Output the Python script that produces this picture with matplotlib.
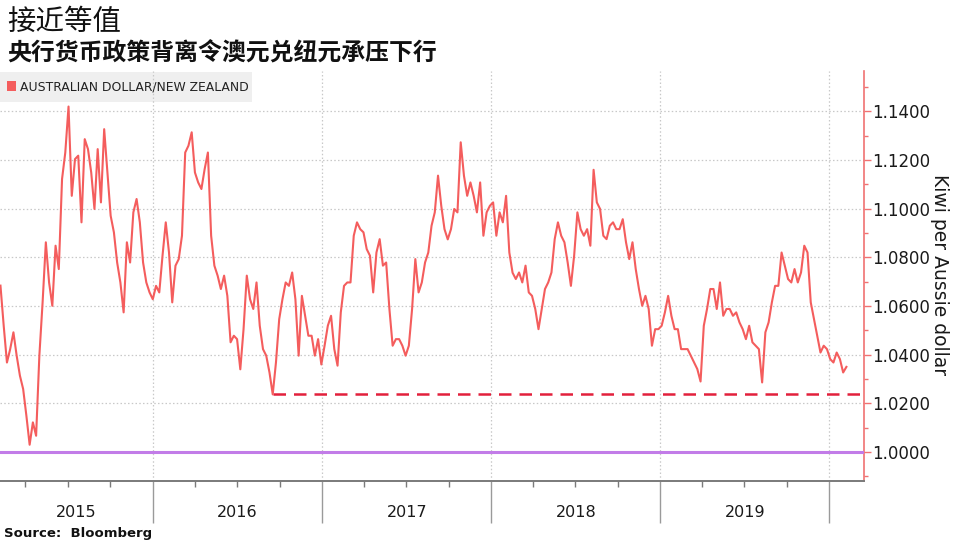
import pandas as pd
import numpy as np
import matplotlib
matplotlib.use('Agg')
import matplotlib.pyplot as plt
import matplotlib.dates as mdates
from matplotlib.patches import Rectangle
from matplotlib.ticker import MultipleLocator, FormatStrFormatter

plt.rcParams.update({
    'font.family': ['DejaVu Sans'],
    'axes.unicode_minus': False,
})
CJK = ['Noto Sans CJK SC', 'DejaVu Sans']

COLORS = {
    'line': '#f45d5d',
    'spine': '#f07272',
    'dash': '#e2203c',
    'parity': '#c27ce8',
    'grid': '#c8c8c8',
    'axis': '#7a7a7a',
    'legend_bg': '#efefef',
    'text': '#1a1a1a',
}

# weekly AUD/NZD closes, starting Feb 6 2015
start_date = '2015-02-06'
audnzd = [
    1.0684, 1.0519, 1.0368, 1.0423, 1.0492, 1.0396, 1.0314, 1.0259, 1.0149, 1.0030,
    1.0122, 1.0067, 1.0396, 1.0615, 1.0862, 1.0697, 1.0601, 1.0848, 1.0752, 1.1122,
    1.1231, 1.1420, 1.1053, 1.1204, 1.1218, 1.0944, 1.1286, 1.1245, 1.1149, 1.0999,
    1.1245, 1.1026, 1.1327, 1.1149, 1.0971, 1.0903, 1.0779, 1.0697, 1.0574, 1.0862,
    1.0779, 1.0985, 1.1040, 1.0944, 1.0779,
    1.0697, 1.0656, 1.0628, 1.0683, 1.0656, 1.0807, 1.0944, 1.0820, 1.0615, 1.0766,
    1.0793, 1.0889, 1.1231, 1.1259, 1.1314, 1.1149, 1.1108, 1.1081, 1.1163, 1.1231,
    1.0889, 1.0766, 1.0725, 1.0670, 1.0725, 1.0642, 1.0451, 1.0478, 1.0464, 1.0340,
    1.0505, 1.0725, 1.0628, 1.0588, 1.0697, 1.0519, 1.0423, 1.0396, 1.0327, 1.0237,
    1.0368, 1.0546, 1.0628,
    1.0697, 1.0683, 1.0738, 1.0628, 1.0396, 1.0642, 1.0560, 1.0478, 1.0478, 1.0396,
    1.0464, 1.0360, 1.0437, 1.0519, 1.0560, 1.0423, 1.0355, 1.0574, 1.0683, 1.0697,
    1.0697, 1.0889, 1.0944, 1.0916, 1.0903, 1.0834, 1.0807, 1.0656, 1.0820, 1.0875,
    1.0766, 1.0779, 1.0588, 1.0437, 1.0464, 1.0464, 1.0437, 1.0396, 1.0437, 1.0588,
    1.0793, 1.0656, 1.0697,
    1.0779, 1.0820, 1.0930, 1.0985, 1.1136, 1.1012, 1.0916, 1.0874, 1.0916, 1.0999,
    1.0985, 1.1273, 1.1136, 1.1053, 1.1108, 1.1053, 1.0985, 1.1108, 1.0889, 1.0985,
    1.1012, 1.1026, 1.0889, 1.0985, 1.0944, 1.1053, 1.0820, 1.0737, 1.0711, 1.0738,
    1.0697, 1.0766, 1.0656, 1.0642, 1.0588, 1.0505, 1.0588, 1.0670, 1.0697, 1.0738,
    1.0875, 1.0944, 1.0889, 1.0862,
    1.0779, 1.0683, 1.0807, 1.0985, 1.0916, 1.0889, 1.0916, 1.0848, 1.1160, 1.1026,
    1.0999, 1.0889, 1.0875, 1.0930, 1.0944, 1.0916, 1.0916, 1.0957, 1.0862, 1.0793,
    1.0862, 1.0752, 1.0670, 1.0601, 1.0642, 1.0588, 1.0437, 1.0505, 1.0505, 1.0519,
    1.0574, 1.0642, 1.0560, 1.0505, 1.0505, 1.0423, 1.0423, 1.0423, 1.0396, 1.0368,
    1.0341, 1.0290, 1.0519,
    1.0588, 1.0670, 1.0670, 1.0588, 1.0697, 1.0560, 1.0588, 1.0588, 1.0560, 1.0574,
    1.0533, 1.0505, 1.0464, 1.0519, 1.0451, 1.0437, 1.0423, 1.0286, 1.0492, 1.0533,
    1.0615, 1.0683, 1.0683, 1.0820, 1.0766, 1.0711, 1.0697, 1.0752, 1.0697, 1.0738,
    1.0848, 1.0820, 1.0615, 1.0546, 1.0478, 1.0409, 1.0437, 1.0423, 1.0382, 1.0368,
    1.0409, 1.0382, 1.0327, 1.0350,
]
years = [2015, 2016, 2017, 2018, 2019]
parity = 1.0

title = '接近等值'
subtitle = '央行货币政策背离令澳元兑纽元承压下行'
legend_label = 'AUSTRALIAN DOLLAR/NEW ZEALAND'
ylabel = 'Kiwi per Aussie dollar'
source = 'Source:  Bloomberg'

dates = pd.date_range(start_date, periods=len(audnzd), freq='7D')
series = pd.Series(audnzd, index=dates)

W, H = 966, 549
fig = plt.figure(figsize=(W / 100, H / 100), dpi=100)
ax = fig.add_axes([0, 1 - 481 / H, 864 / W, 410 / H])
ax.set_facecolor('none')

x_left = pd.Timestamp('2015-02-05')
x_right = pd.Timestamp('2020-03-16')
ax.set_xlim(x_left, x_right)
ax.set_ylim(0.9881, 1.1566)

# background legend box (behind the grid)
fig.patches.append(Rectangle((0, 1 - 102 / H), 252 / W, 30 / H, transform=fig.transFigure,
                             facecolor=COLORS['legend_bg'], edgecolor='none', zorder=-1))
fig.patches.append(Rectangle((7 / W, 1 - 91 / H), 9 / W, 10 / H, transform=fig.transFigure,
                             facecolor=COLORS['line'], edgecolor='none', zorder=-1))
fig.text(20 / W, 1 - 87 / H, legend_label, fontsize=8.9, color='#222222',
         ha='left', va='center')

# grid
for y in np.arange(1.0, 1.15, 0.02):
    ax.axhline(y, color=COLORS['grid'], lw=0.9, ls=(0, (1.2, 1.8)), zorder=1)
for yr in years[1:] + [2020]:
    ax.axvline(pd.Timestamp(f'{yr}-01-01'), color=COLORS['grid'], lw=0.9,
               ls=(0, (1.2, 1.8)), zorder=1)

# reference lines
ax.axhline(parity, color=COLORS['parity'], lw=2.2, zorder=3)
low_2016 = series['2016'].idxmin()
ax.hlines(series[low_2016], low_2016, x_right, color=COLORS['dash'], lw=1.8,
          linestyles=(0, (5, 3.2)), zorder=3)

ax.plot(series.index, series.values, color=COLORS['line'], lw=1.5, zorder=4)

# spines
for s in ['top', 'left']:
    ax.spines[s].set_visible(False)
ax.spines['right'].set_color(COLORS['spine'])
ax.spines['right'].set_linewidth(1.2)
ax.spines['bottom'].set_color(COLORS['axis'])
ax.spines['bottom'].set_linewidth(1.4)

# y axis on the right
ax.yaxis.tick_right()
ax.yaxis.set_major_locator(MultipleLocator(0.02))
ax.yaxis.set_minor_locator(MultipleLocator(0.01))
ax.yaxis.set_major_formatter(FormatStrFormatter('%.4f'))
ax.tick_params(axis='y', which='major', length=5, width=1, color=COLORS['spine'],
               labelsize=12, labelcolor=COLORS['text'], pad=1)
ax.tick_params(axis='y', which='minor', length=3, width=1, color=COLORS['spine'])
fig.text(940 / W, 1 - 275 / H, ylabel, rotation=270, fontsize=13.5,
         color=COLORS['text'], ha='center', va='center')

# x axis: long year separators, short quarter ticks
ax.xaxis.set_major_locator(mdates.YearLocator())
ax.xaxis.set_minor_locator(mdates.MonthLocator(bymonth=[4, 7, 10]))
ax.xaxis.set_major_formatter(plt.NullFormatter())
ax.tick_params(axis='x', which='major', length=30, width=1, color='#9a9a9a')
ax.tick_params(axis='x', which='minor', length=4, width=1, color=COLORS['axis'])

for yr in years:
    a = max(pd.Timestamp(f'{yr}-01-01'), x_left)
    b = pd.Timestamp(f'{yr + 1}-01-01')
    mid = a + (b - a) / 2
    ax.text(mid, -0.077, str(yr), transform=ax.get_xaxis_transform(),
            fontsize=11.5, color=COLORS['text'], ha='center', va='center')

fig.text(7 / W, 1 - 22 / H, title, family=CJK, fontsize=20.5, fontweight='medium',
         color='#111111', ha='left', va='center')
fig.text(7 / W, 1 - 54 / H, subtitle, family=CJK, fontsize=17.2, fontweight='bold',
         color='#111111', ha='left', va='center')
fig.text(4 / W, 1 - 533 / H, source, fontsize=9.5, fontweight='bold',
         color='#111111', ha='left', va='center')

fig.savefig('out.png', dpi=100, facecolor='white')
plt.close(fig)
